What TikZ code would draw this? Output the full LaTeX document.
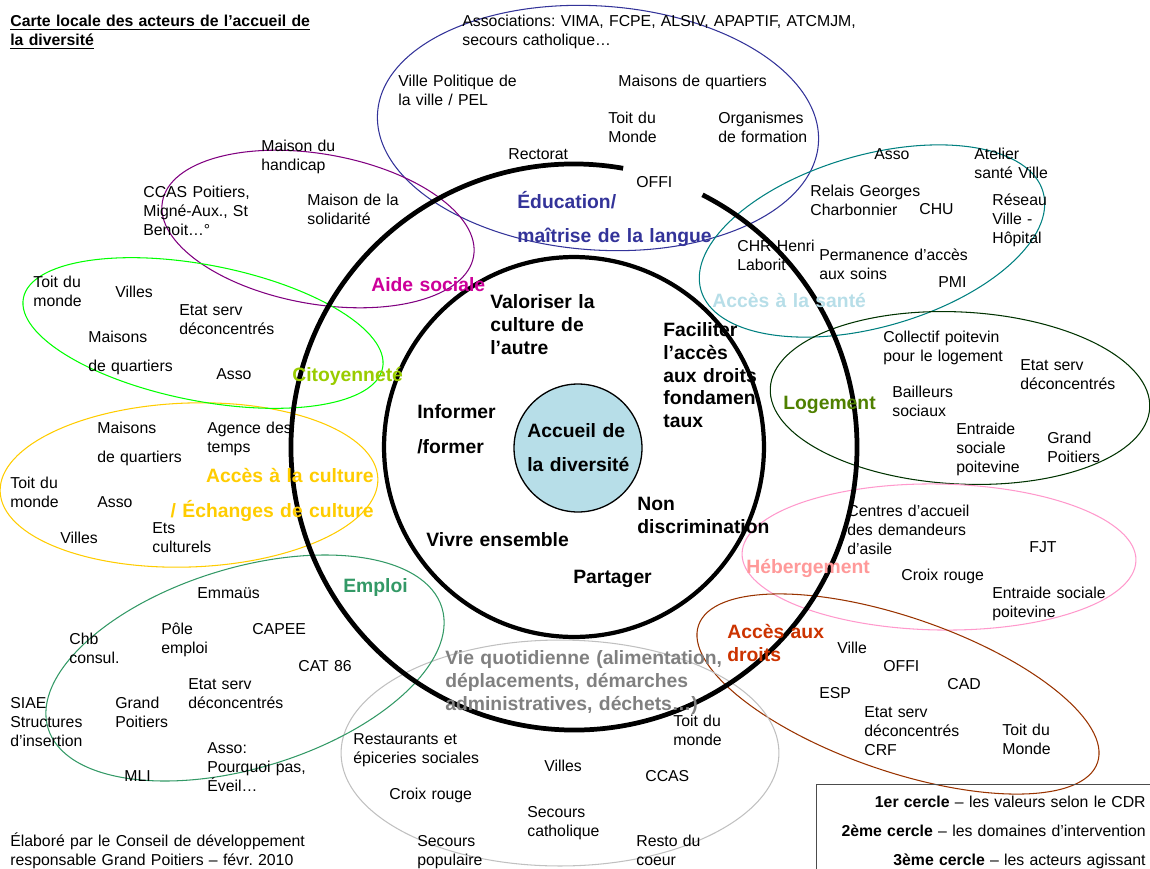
\documentclass[tikz,border=0pt]{standalone}
\usepackage{fontspec}
\setmainfont{Liberation Sans}
\usepackage{tikz}
\usetikzlibrary{shapes.geometric}
\frenchspacing

\definecolor{educol}{HTML}{333399}
\definecolor{aidecol}{HTML}{800080}
\definecolor{aidetxt}{HTML}{CC0099}
\definecolor{santecol}{HTML}{008080}
\definecolor{santetxt}{HTML}{B7DEE8}
\definecolor{logcol}{HTML}{003300}
\definecolor{logtxt}{HTML}{4F8000}
\definecolor{hebcol}{HTML}{FF99CC}
\definecolor{hebtxt}{HTML}{FF9999}
\definecolor{droitcol}{HTML}{993300}
\definecolor{droittxt}{HTML}{CC3300}
\definecolor{viecol}{HTML}{C0C0C0}
\definecolor{vietxt}{HTML}{808080}
\definecolor{emploicol}{HTML}{339966}
\definecolor{culcol}{HTML}{FFCC00}
\definecolor{citocol}{HTML}{00FF00}
\definecolor{citotxt}{HTML}{99CC00}
\definecolor{corefill}{HTML}{B7DEE8}

\begin{document}
\begin{tikzpicture}[
    x=0.02cm, y=-0.02cm,
    zone/.style={ellipse, draw=#1, line width=0.6pt, inner sep=0pt},
    txt/.style={anchor=north west, inner sep=0pt, text width=9cm, align=left, yshift=0.4cm, execute at begin node={\rule{0pt}{0.4cm}}},
    actor/.style={txt, font=\fontsize{9}{10.8}\selectfont},
    value/.style={txt, font=\bfseries\fontsize{11}{13}\selectfont},
    domain/.style={value, text=#1},
    legend/.style={actor, anchor=north east, align=right}
]
\useasboundingbox (0,0) rectangle (1150,869);

% Third circle - zones of the actors
\node[zone=educol, minimum width=8.84cm, minimum height=4.88cm, rotate=-4] (edu) at (598,128) {};
\node[zone=aidecol, minimum width=6.32cm, minimum height=3.00cm, rotate=-10] (aide) at (318,229) {};
\node[zone=santecol, minimum width=7.12cm, minimum height=3.44cm, rotate=16] (sante) at (872,241) {};
\node[zone=logcol, minimum width=7.60cm, minimum height=3.44cm, rotate=-3] (log) at (960,398) {};
\node[zone=hebcol, minimum width=7.88cm, minimum height=2.92cm, rotate=-1] (heb) at (939,557) {};
\node[zone=droitcol, minimum width=8.44cm, minimum height=3.08cm, rotate=-19] (droit) at (898,694) {};
\node[zone=viecol, minimum width=8.76cm, minimum height=4.52cm] (vie) at (560,753) {};
\node[zone=emploicol, minimum width=8.24cm, minimum height=4.00cm, rotate=17] (emploi) at (245,668) {};
\node[zone=culcol, minimum width=7.56cm, minimum height=3.28cm, rotate=2] (cul) at (189,485) {};
\node[zone=citocol, minimum width=7.32cm, minimum height=2.72cm, rotate=-11] (cito) at (203,333) {};

% Circles
\coordinate (ctr) at (574,447);
\draw[line width=2.7pt] ([shift={(-80:283)}]ctr) arc[start angle=-80, end angle=-423, radius=283];
\node[circle, draw, line width=2.4pt, inner sep=0pt, minimum size=7.6cm] (ring) at (ctr) {};
\node[circle, draw, fill=corefill, line width=0.75pt, inner sep=0pt, minimum size=2.56cm] (core) at (578,448) {};

% Title and footer
\node[txt, font=\bfseries\fontsize{9}{10.8}\selectfont] (title) at (10,26) {\underline{Carte locale des acteurs de l'accueil de}\\\underline{la diversité}};
\node[actor] (footer) at (10,846) {Élaboré par le Conseil de développement\\responsable Grand Poitiers – févr. 2010};

% Legend
\node[draw=black!70, line width=0.75pt, minimum width=7cm, minimum height=2cm, anchor=north west] (legendbox) at (816,784) {};
\node[legend] (legendtxt) at (1146,807) {\textbf{1er cercle} – les valeurs selon le CDR\\[5.7pt]\textbf{2ème cercle} – les domaines d'intervention\\[5.7pt]\textbf{3ème cercle} – les acteurs agissant};

% First circle - values
\node[value] (corelabel) at (527,437) {Accueil de\\[6.3pt]la diversité};
\node[value] (valoriser) at (490,308) {Valoriser la\\culture de\\l'autre};
\node[value] (faciliter) at (663,336) {Faciliter\\l'accès\\aux droits\\fondamen\\taux};
\node[value] (informer) at (417,418) {Informer\\[6.9pt]/former};
\node[value] (nondisc) at (637,510) {Non\\discrimination};
\node[value] (vivre) at (426,546) {Vivre ensemble};
\node[value] (partager) at (573,583) {Partager};

% Education
\node[domain=educol] (edulabel) at (517,208) {Éducation/\\[6.3pt]maîtrise de la langue};
\node[actor] (assoc) at (462,26) {Associations: VIMA, FCPE, ALSIV, APAPTIF, ATCMJM,\\secours catholique…};
\node[actor] (villepol) at (398,86) {Ville Politique de\\la ville / PEL};
\node[actor] (maisonsq) at (618,86) {Maisons de quartiers};
\node[actor] (edutoit) at (608,123) {Toit du\\Monde};
\node[actor] (orgform) at (718,123) {Organismes\\de formation};
\node[actor] (rectorat) at (508,159) {Rectorat};
\node[actor] (offi) at (636,187) {OFFI};

% Aide sociale
\node[domain=aidetxt] (aidelabel) at (371,291) {Aide sociale};
\node[actor] (handicap) at (261,151) {Maison du\\handicap};
\node[actor] (ccas) at (143,197) {CCAS Poitiers,\\Migné-Aux., St\\Benoit…°};
\node[actor] (solidarite) at (307,205) {Maison de la\\solidarité};

% Sante
\node[domain=santetxt] (santelabel) at (712,307) {Accès à la santé};
\node[actor] (santeasso) at (874,159) {Asso};
\node[actor] (atelier) at (974,159) {Atelier\\santé Ville};
\node[actor] (relais) at (810,196) {Relais Georges\\Charbonnier};
\node[actor] (chu) at (919,214) {CHU};
\node[actor] (reseau) at (992,205) {Réseau\\Ville -\\Hôpital};
\node[actor] (chr) at (737,251) {CHR Henri\\Laborit};
\node[actor] (pass) at (819,260) {Permanence d'accès\\aux soins};
\node[actor] (pmi) at (938,287) {PMI};

% Logement
\node[domain=logtxt] (loglabel) at (783,409) {Logement};
\node[actor] (collectif) at (883,342) {Collectif poitevin\\pour le logement};
\node[actor] (logetat) at (1020,370) {Etat serv\\déconcentrés};
\node[actor] (bailleurs) at (892,397) {Bailleurs\\sociaux};
\node[actor] (logentraide) at (956,434) {Entraide\\sociale\\poitevine};
\node[actor] (loggrand) at (1047,443) {Grand\\Poitiers};

% Hebergement
\node[domain=hebtxt] (heblabel) at (746,573) {Hébergement};
\node[actor] (cada) at (847,516) {Centres d'accueil\\des demandeurs\\d'asile};
\node[actor] (fjt) at (1029,552) {FJT};
\node[actor] (hebcroix) at (901,580) {Croix rouge};
\node[actor] (hebentraide) at (992,598) {Entraide sociale\\poitevine};

% Acces aux droits
\node[domain=droittxt] (droitlabel) at (727,638) {Accès aux\\droits};
\node[actor] (droitville) at (837,653) {Ville};
\node[actor] (droitoffi) at (883,671) {OFFI};
\node[actor] (cad) at (947,689) {CAD};
\node[actor] (esp) at (819,698) {ESP};
\node[actor] (droitetat) at (864,717) {Etat serv\\déconcentrés\\CRF};
\node[actor] (droittoit) at (1002,735) {Toit du\\Monde};

% Vie quotidienne
\node[domain=vietxt] (vielabel) at (445,664) {Vie quotidienne (alimentation,\\déplacements, démarches\\administratives, déchets…)};
\node[actor] (restos) at (353,744) {Restaurants et\\épiceries sociales};
\node[actor] (vietoit) at (673,726) {Toit du\\monde};
\node[actor] (vievilles) at (544,771) {Villes};
\node[actor] (vieccas) at (645,781) {CCAS};
\node[actor] (viecroix) at (389,799) {Croix rouge};
\node[actor] (secourscath) at (527,817) {Secours\\catholique};
\node[actor] (secourspop) at (417,846) {Secours\\populaire};
\node[actor] (restocoeur) at (636,846) {Resto du\\coeur};

% Emploi
\node[domain=emploicol] (emploilabel) at (343,592) {Emploi};
\node[actor] (emmaus) at (197,598) {Emmaüs};
\node[actor] (pole) at (161,634) {Pôle\\emploi};
\node[actor] (capee) at (252,634) {CAPEE};
\node[actor] (chb) at (69,644) {Chb\\consul.};
\node[actor] (cat) at (298,671) {CAT 86};
\node[actor] (emploietat) at (188,689) {Etat serv\\déconcentrés};
\node[actor] (siae) at (10,708) {SIAE\\Structures\\d'insertion};
\node[actor] (emploigrand) at (115,708) {Grand\\Poitiers};
\node[actor] (emploiasso) at (207,753) {Asso:\\Pourquoi pas,\\Éveil…};
\node[actor] (mli) at (124,781) {MLI};

% Culture
\node[domain=culcol, anchor=north east, align=right] (cullabel) at (374,482) {Accès à la culture\\[6.9pt]/ Échanges de culture};
\node[actor] (culmaisons) at (97,433) {Maisons\\[5.7pt]de quartiers};
\node[actor] (agence) at (207,433) {Agence des\\temps};
\node[actor] (cultoit) at (10,488) {Toit du\\monde};
\node[actor] (culasso) at (97,507) {Asso};
\node[actor] (culvilles) at (60,543) {Villes};
\node[actor] (ets) at (152,533) {Ets\\culturels};

% Citoyennete
\node[domain=citotxt] (citolabel) at (292,381) {Citoyenneté};
\node[actor] (citotoit) at (33,287) {Toit du\\monde};
\node[actor] (citovilles) at (115,297) {Villes};
\node[actor] (citoetat) at (179,315) {Etat serv\\déconcentrés};
\node[actor] (citomaisons) at (88,342) {Maisons\\[5.7pt]de quartiers};
\node[actor] (citoasso) at (216,379) {Asso};

\end{tikzpicture}
\end{document}
